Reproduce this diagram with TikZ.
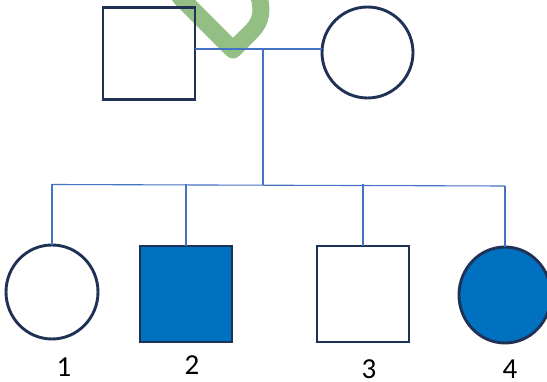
\documentclass[tikz,border=0pt]{standalone}
\usepackage{fontspec}
\setmainfont{Carlito}
\usetikzlibrary{shapes.geometric}
\definecolor{navy}{HTML}{1F3256}
\definecolor{affblue}{HTML}{0070C0}
\definecolor{linkblue}{HTML}{4472C4}
\definecolor{checkgreen}{HTML}{93BF84}
\tikzset{
  x=1pt,y=-1pt,
  male/.style={draw=navy,line width=2.9pt,rectangle,minimum width=92pt,minimum height=92pt,inner sep=0pt,outer sep=0pt},
  female/.style={draw=navy,line width=2.9pt,ellipse,minimum width=92pt,minimum height=94pt,inner sep=0pt,outer sep=0pt},
  affected/.style={fill=affblue},
  link/.style={draw=linkblue,line width=1.1pt},
  lbl/.style={font=\fontsize{29}{32}\selectfont,inner sep=0pt,anchor=base}
}
\begin{document}
\begin{tikzpicture}
\useasboundingbox (0,0) rectangle (547,382);
\clip (0,0) rectangle (547,382);
% check mark
\draw[checkgreen,line width=17pt,line cap=round,line join=round]
  (180,-3) -- (233,50) -- (252,31) .. controls (262,21) and (263,8) .. (258,-6);
% parents
\node[male] (father) at (149,53.5) {};
\node[female,minimum width=91pt,minimum height=91pt] (mother) at (367.5,52.5) {};
\coordinate (mate) at (263,49);
\coordinate (sib) at (263,185);
\draw[link] (father.east |- mate) -- (mother.west |- mate);
\draw[link] (mate) -- (sib);
% children
\node[female] (c1) at (52,292) {};
\node[male,affected,minimum height=96pt] (c2) at (186,294) {};
\node[male,minimum height=96pt] (c3) at (363,294) {};
\node[female,affected,minimum height=96pt] (c4) at (505,295) {};
\coordinate (sl) at (52,184.5);
\coordinate (sr) at (505,186);
\draw[link] (sl) -- (sr);
\draw[link] (c1.north) -- (c1.north |- sl);
\draw[link] (c2.north) -- (c2.north |- sl);
\draw[link] (c3.north) -- (c3.north |- sl);
\draw[link] (c4.north) -- (c4.north |- sr);
% labels
\node[lbl] (l1) at (64,377) {1};
\node[lbl] (l2) at (192,375) {2};
\node[lbl] (l3) at (369,379) {3};
\node[lbl] (l4) at (510,379) {4};
\end{tikzpicture}
\end{document}
